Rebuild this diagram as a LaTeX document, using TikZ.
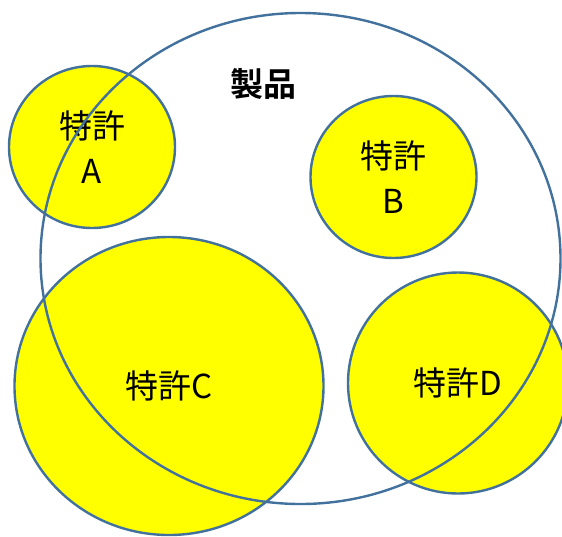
\documentclass[tikz,border=0pt]{standalone}
\usepackage{fontspec}
\newfontfamily\jp{Noto Sans CJK JP}[BoldFont=* Bold]
\usetikzlibrary{shapes.geometric}
\definecolor{edge}{HTML}{41719C}
\definecolor{pat}{HTML}{FFFF00}
\tikzset{
  patent/.style={ellipse, draw=edge, line width=2.4pt, fill=pat, inner sep=0pt, align=center,
    font=\jp\fontsize{33}{45}\selectfont},
  product/.style={ellipse, draw=edge, line width=2.4pt, inner sep=0pt},
  lbl/.style={font=\jp\bfseries\fontsize{33}{40}\selectfont, inner sep=0pt}
}
\begin{document}
\begin{tikzpicture}[x=1pt,y=-1pt]
\useasboundingbox (0,0) rectangle (562,536);
\node[patent, minimum width=166pt, minimum height=162pt] (A) at (92,147) {特許\\A};
\node[patent, minimum width=166pt, minimum height=162pt] (B) at (393.5,177) {特許\\B};
\node[patent, minimum width=309pt, minimum height=298pt] (C) at (169,386) {特許C};
\node[patent, minimum width=220pt, minimum height=221pt] (D) at (458,383) {特許D};
\node[product, minimum width=520pt, minimum height=491pt] (P) at (300.5,258.5) {};
\node[lbl] (Plbl) at (263,84) {製品};
\end{tikzpicture}
\end{document}
